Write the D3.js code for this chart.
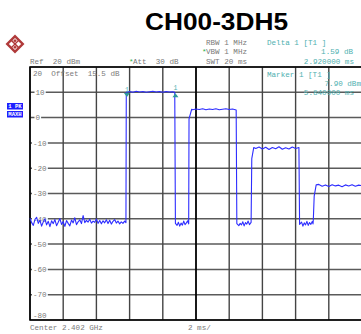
<!DOCTYPE html>
<html><head><meta charset="utf-8">
<script src="https://cdn.jsdelivr.net/npm/d3@7"></script>
<style>html,body{margin:0;padding:0;background:#fff;}svg{display:block;}</style>
</head><body>
<svg id="c" width="361" height="334"></svg>
<script>
// ---- data ----
const title = "CH00-3DH5";
const yTicks = [20, 10, 0, -10, -20, -30, -40, -50, -60, -70, -80];
const xTicks = [0, 2, 4, 6, 8, 10, 12, 14, 16, 18, 20];
const traceTime = [
  0.00,0.10,0.20,0.30,0.40,0.50,0.60,0.70,0.80,0.90,1.00,1.10,1.20,1.30,1.40,1.50,1.60,1.70,1.80,1.90,
  2.00,2.10,2.20,2.30,2.40,2.50,2.60,2.70,2.80,2.90,3.00,3.10,3.20,3.30,3.40,3.50,3.60,3.70,3.80,3.90,
  4.00,4.10,4.20,4.30,4.40,4.50,4.60,4.70,4.80,4.90,5.00,5.10,5.20,5.30,5.40,5.50,5.60,5.70,5.78,
  5.80,5.84,6.00,6.20,6.40,6.60,6.80,7.00,7.20,7.40,7.60,7.80,8.00,8.20,8.40,8.60,8.72,
  8.76,8.86,8.94,9.02,9.10,9.18,9.26,9.34,9.42,9.50,9.56,
  9.58,9.74,9.80,10.0,10.2,10.4,10.6,10.8,11.0,11.2,11.4,11.6,11.8,12.0,12.2,12.42,
  12.46,12.58,12.66,12.74,12.82,12.90,12.98,13.06,13.14,13.22,13.32,
  13.36,13.48,13.6,13.8,14.0,14.2,14.4,14.6,14.8,15.0,15.2,15.4,15.6,15.8,16.0,16.20,
  16.24,16.36,16.44,16.52,16.60,16.68,16.76,16.84,16.92,17.00,17.05,
  17.07,17.12,17.24,17.4,17.6,17.8,18.0,18.2,18.4,18.6,18.8,19.0,19.2,19.4,19.6,19.8,20.0
];
const traceLevel = [
  -39.8,-41.5,-42.6,-40.2,-39.4,-41.8,-40.6,-42.9,-41.2,-40.0,-42.4,-41.0,-43.1,-40.8,-41.9,-40.3,-42.7,-41.4,-39.9,-42.2,
  -41.1,-43.0,-40.7,-41.8,-42.8,-40.5,-41.6,-39.6,-42.3,-41.2,-40.4,-41.9,-38.7,-41.5,-40.6,-41.3,-40.2,-41.7,-40.9,-41.4,
  -40.1,-41.8,-40.7,-42.0,-40.8,-41.6,-40.4,-41.9,-40.6,-42.1,-41.0,-40.3,-41.7,-40.9,-42.0,-41.2,-41.8,-40.9,-41.5,
  10.0,10.1,10.3,10.0,10.4,10.1,10.3,10.0,10.2,10.4,10.1,10.3,10.0,10.3,10.1,10.2,10.0,
  -41.8,-42.6,-41.4,-42.9,-41.7,-42.5,-40.9,-42.3,-41.6,-40.8,-42.0,
  -0.5,3.3,3.1,3.4,3.2,3.5,3.1,3.4,3.2,3.5,3.1,3.3,3.5,3.2,3.4,3.0,
  -41.9,-42.7,-41.8,-42.4,-41.2,-42.8,-41.5,-42.1,-40.9,-42.3,-41.4,
  -16.2,-11.8,-12.2,-11.6,-12.4,-11.7,-12.6,-11.8,-12.3,-11.5,-12.5,-11.9,-12.4,-11.6,-12.2,-11.8,
  -42.2,-41.3,-42.9,-41.6,-42.4,-41.0,-42.6,-41.5,-42.2,-41.1,-42.0,
  -40.0,-31.0,-26.6,-26.4,-27.1,-26.6,-27.2,-26.5,-27.0,-26.7,-27.3,-26.6,-27.0,-26.5,-27.1,-26.7,-26.9
];
const markerTimes = [5.84, 8.76];
const markerLevels = [10.1, 10.0];
const markerLabels = ["1", "1"];
const headerLeft = ["Ref  20 dBm"];
const headerMid = ["RBW 1 MHz", "VBW 1 MHz", "SWT 20 ms"];
const deltaLines = ["Delta 1 [T1 ]", "1.59 dB", "2.920000 ms"];
const markerLines = ["Marker 1 [T1 ]", "7.90 dBm", "5.840000 ms"];

// ---- layout ----
const svg = d3.select("#c");
const L = 30, R = 362, T = 67, B = 320;
const x = d3.scaleLinear().domain([0, 20]).range([L, R]);
const y = d3.scaleLinear().domain([-80, 20]).range([B, T]);
const mono = "'Liberation Mono','DejaVu Sans Mono',monospace";
const gray = "#7a7a7a", teal = "#4fb0b0";

// title
svg.append("text").attr("x", 145).attr("y", 30).text(title)
  .attr("font-family", "'Liberation Sans',Arial,sans-serif").attr("font-weight", "bold")
  .attr("font-size", 23).attr("textLength", 143).attr("lengthAdjust", "spacingAndGlyphs").attr("fill", "#000");

// logo
const lg = svg.append("g").attr("transform", "translate(15,44) rotate(45)");
lg.append("rect").attr("x", -5.5).attr("y", -5.5).attr("width", 11).attr("height", 11)
  .attr("fill", "#fff").attr("stroke", "#b03a3a").attr("stroke-width", 2.4);
lg.append("line").attr("x1", -5).attr("y1", 0).attr("x2", 5).attr("y2", 0).attr("stroke", "#b03a3a").attr("stroke-width", 1.6);
lg.append("line").attr("x1", 0).attr("y1", -5).attr("x2", 0).attr("y2", 5).attr("stroke", "#b03a3a").attr("stroke-width", 1.2);
lg.append("rect").attr("x", -3.5).attr("y", -3.5).attr("width", 2.5).attr("height", 2.5).attr("fill", "#b03a3a");
lg.append("rect").attr("x", 1).attr("y", 1).attr("width", 2.5).attr("height", 2.5).attr("fill", "#b03a3a");

// header text
const fs = 7.6;
function txt(s, px, py, col, anchor) {
  return svg.append("text").attr("x", px).attr("y", py).text(s)
    .attr("font-family", mono).attr("font-size", fs).attr("fill", col || gray)
    .attr("text-anchor", anchor || "start").attr("xml:space", "preserve").style("white-space", "pre");
}
txt(headerLeft[0], 30, 63.5);
svg.append("text").attr("x", 129).attr("y", 63.5).text("*").attr("font-family", mono).attr("font-size", fs).attr("fill", "#2bb34a");
txt("Att  30 dB", 133, 63.5);
txt(headerMid[0], 206, 45);
svg.append("text").attr("x", 202).attr("y", 54).text("*").attr("font-family", mono).attr("font-size", fs).attr("fill", "#2bb34a");
txt(headerMid[1], 206, 54);
txt(headerMid[2], 206, 63.5);
txt(deltaLines[0], 267, 45, teal);
txt(deltaLines[1], 353, 54, teal, "end");
txt(deltaLines[2], 354, 63.5, teal, "end");

// PK MAXH boxes
const bx = svg.append("g");
[["1 PK", 103], ["MAXH", 111]].forEach(([s, yy]) => {
  bx.append("rect").attr("x", 7).attr("y", yy).attr("width", 16).attr("height", 6.5).attr("fill", "#1f1fff");
  bx.append("text").attr("x", 15).attr("y", yy + 5.3).text(s).attr("text-anchor", "middle")
    .attr("font-family", mono).attr("font-size", 5.6).attr("font-weight", "bold").attr("fill", "#fff")
    .attr("xml:space", "preserve").style("white-space", "pre");
});

// grid
const grid = svg.append("g");
yTicks.forEach(v => {
  grid.append("line").attr("x1", L).attr("x2", R).attr("y1", y(v)).attr("y2", y(v))
    .attr("stroke", "#5a5a5a").attr("stroke-width", 1.5);
});
xTicks.forEach(v => {
  grid.append("line").attr("x1", x(v)).attr("x2", x(v)).attr("y1", T).attr("y2", B)
    .attr("stroke", v === 10 ? "#000" : "#444").attr("stroke-width", v === 10 ? 1.8 : 1.4);
});
// frame
grid.append("path").attr("d", `M${R},${T}H${L}V${B}H${R}`).attr("fill", "none").attr("stroke", "#000").attr("stroke-width", 1.6);

// y labels
yTicks.forEach(v => {
  if (v === 20) return;
  const yy = v === -80 ? y(v) - 5 : y(v);
  const s = String(v);
  const w = s.length * 4.6;
  const x0 = v < 0 ? 33 : 35.5;
  grid.append("rect").attr("x", x0 - 1).attr("y", yy - 3.5).attr("width", w + 2).attr("height", 7).attr("fill", "#fff");
  txt(s, x0, yy + 2.7);
});
txt("20  Offset  15.5 dB", 33, 76);

// bottom labels
txt("Center 2.402 GHz", 30, 329.5);
txt("2 ms/", 188, 329.5);

// marker text
txt(markerLines[0], 267, 76.5, teal);
txt(markerLines[1], 361, 86, teal, "end");
txt(markerLines[2], 354, 95, teal, "end");

// trace
const pts = traceTime.map((t, i) => [t, traceLevel[i]]);
const line = d3.line().x(d => x(d[0])).y(d => y(d[1]));
svg.append("path").datum(pts).attr("d", line).attr("fill", "none")
  .attr("stroke", "#2d2dff").attr("stroke-width", 1.1).attr("stroke-linejoin", "round");

// markers
markerTimes.forEach((t, i) => {
  const mx = x(t), my = y(markerLevels[i]);
  const tri = i === 0
    ? `M${mx - 3},${my + 1}L${mx + 3},${my + 1}L${mx},${my + 5}Z`
    : `M${mx - 3},${my + 5}L${mx + 3},${my + 5}L${mx},${my + 1}Z`;
  svg.append("path").attr("d", tri).attr("fill", "#2e9a9a");
  svg.append("text").attr("x", mx).attr("y", my - (i === 0 ? 0.5 : 2)).text(markerLabels[i])
    .attr("text-anchor", "middle").attr("font-family", mono).attr("font-size", 6.5).attr("fill", teal);
});
</script>
</body></html>
